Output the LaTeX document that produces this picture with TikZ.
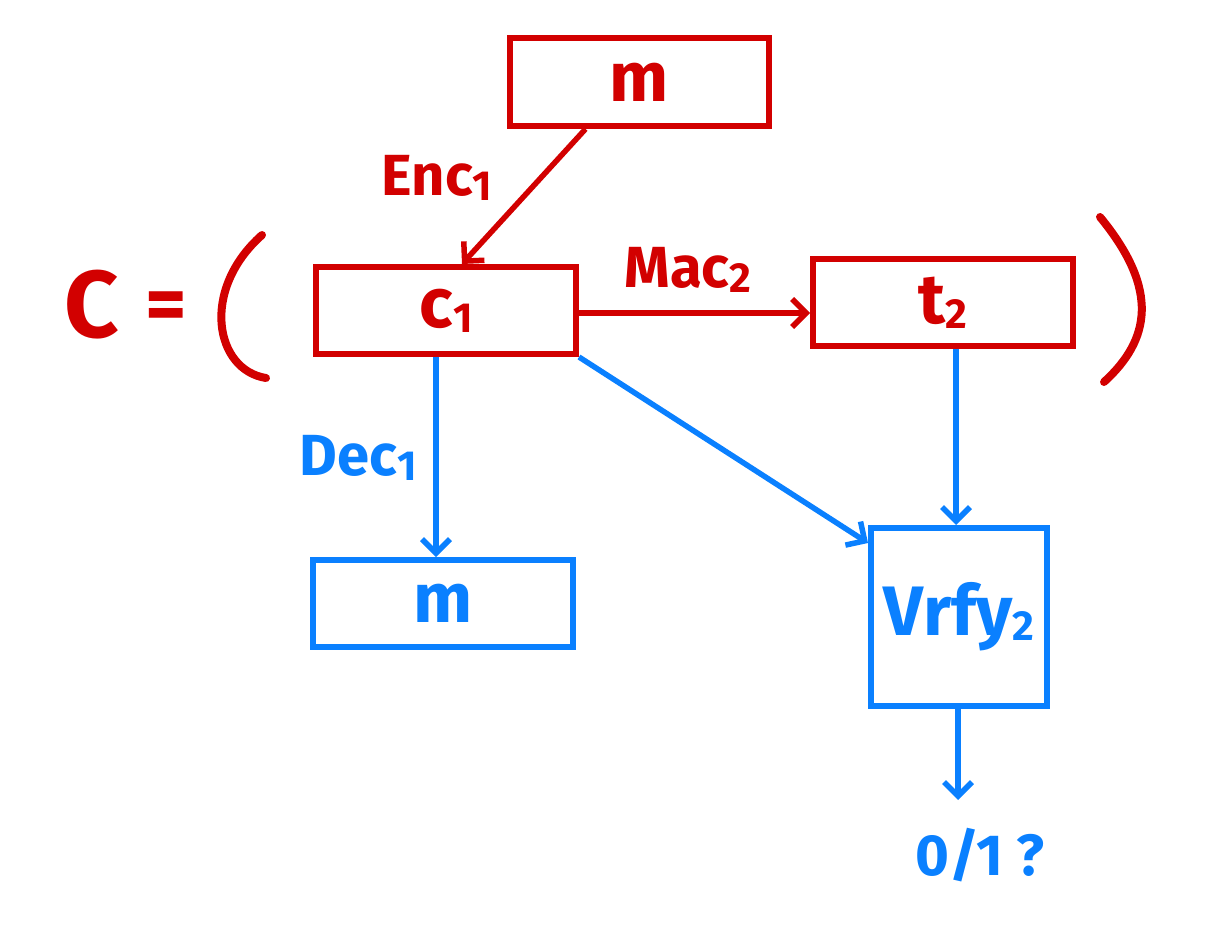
\documentclass[tikz,border=0pt]{standalone}
\usepackage{fontspec}
\setmainfont{Fira Sans}
\usetikzlibrary{arrows.meta}
\definecolor{hred}{RGB}{210,0,0}
\definecolor{hblue}{RGB}{10,128,255}
\newcommand{\lowsub}[1]{\raisebox{-5pt}{\fontsize{42}{42}\selectfont #1}}
\tikzset{
  box/.style={draw, line width=6pt, rectangle, inner sep=0pt},
  lbl/.style={font=\fontsize{58}{60}\selectfont\bfseries, inner sep=0pt},
  inl/.style={font=\fontsize{70}{72}\selectfont\bfseries, inner sep=0pt},
  arr/.style={line width=5.5pt, -{Straight Barb[length=14pt,width=28pt,line width=5.5pt]}},
}
\begin{document}
\begin{tikzpicture}[x=1pt,y=-1pt]
\useasboundingbox (0,0) rectangle (1212,929);
% red boxes
\node[box, hred, minimum width=259pt, minimum height=88pt] (mtop) at (639.5,82) {};
\node[inl, hred] at (mtop) {m};
\node[box, hred, minimum width=260pt, minimum height=87pt] (c1) at (446,310.5) {};
\node[inl, hred] at (c1) {c\lowsub{1}};
\node[box, hred, minimum width=260pt, minimum height=87pt] (t2) at (943,302.5) {};
\node[inl, hred] at (t2) {t\lowsub{2}};
% blue boxes
\node[box, hblue, minimum width=260pt, minimum height=87pt] (mbot) at (443,603.5) {};
\node[inl, hblue] at (mbot) {m};
\node[box, hblue, minimum width=176pt, minimum height=178pt] (vrfy) at (959,617) {};
\node[inl, hblue] at (vrfy) {Vrfy\lowsub{2}};
\coordinate (out) at (958,800);
\node[lbl, hblue] (res) at (980,855) {0/1 ?};
% red arrows
\draw[arr, hred] ([xshift=-54pt]mtop.south) -- ([xshift=16pt]c1.north);
\node[lbl, hred] (enc) at (437,178) {Enc\lowsub{1}};
\draw[arr, hred] (c1.east |- 0,313) -- (t2.west |- 0,313);
\node[lbl, hred] (mac) at (688,270) {Mac\lowsub{2}};
% blue arrows
\draw[arr, hblue] ([xshift=-10pt]c1.south) -- ([xshift=-7pt]mbot.north);
\node[lbl, hblue] (dec) at (358,458) {Dec\lowsub{1}};
\draw[arr, hblue] (c1.south east) -- ([yshift=-18pt]vrfy.north west);
\draw[arr, hblue] ([xshift=13pt]t2.south) -- ([xshift=-3pt]vrfy.north);
\draw[arr, hblue] ([xshift=-1pt]vrfy.south) -- (out);
% C = ( ... )
\node[font=\fontsize{95}{95}\selectfont\bfseries, hred, inner sep=0pt] (C) at (92,305) {C};
\node[font=\fontsize{80}{80}\selectfont\bfseries, hred, inner sep=0pt] (eq) at (166,312) {=};
\draw[hred, line width=8pt, line cap=round] (262,235) .. controls (200,290) and (215,370) .. (266,378);
\draw[hred, line width=8pt, line cap=round] (1100,217) .. controls (1160,290) and (1150,340) .. (1104,382);
\end{tikzpicture}
\end{document}
